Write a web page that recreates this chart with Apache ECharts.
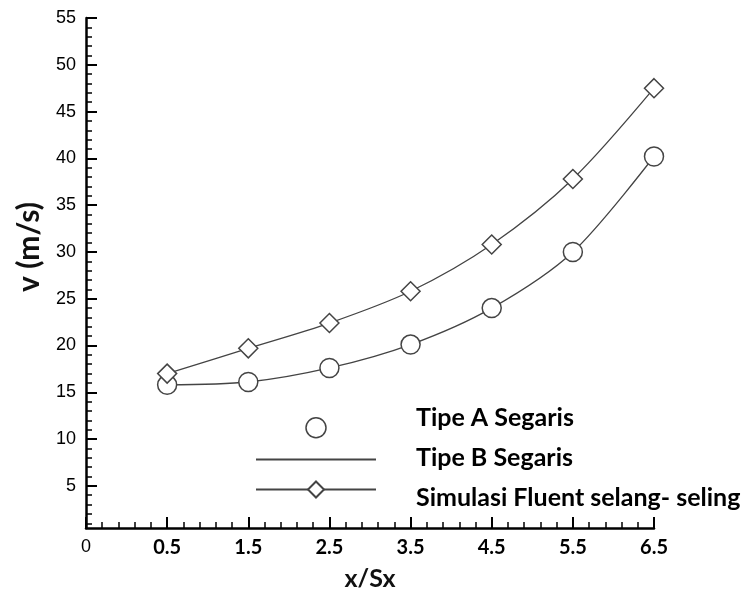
<!DOCTYPE html>
<html>
<head>
<meta charset="utf-8">
<script src="https://cdn.jsdelivr.net/npm/echarts@6/dist/echarts.min.js"></script>
<style>
  html, body { margin: 0; padding: 0; background: #fff; }
  #chart { width: 753px; height: 596px; }
</style>
</head>
<body>
<div id="chart"></div>
<script>
// x positions (x/Sx) and velocities
const xValues = [0.5, 1.5, 2.5, 3.5, 4.5, 5.5, 6.5];
const tipeA = [15.8, 16.1, 17.6, 20.1, 24.0, 30.0, 40.2];
const simulasi = [17.0, 19.7, 22.4, 25.8, 30.8, 37.8, 47.5];
const seriesNames = ['Tipe A Segaris', 'Tipe B Segaris', 'Simulasi Fluent selang- seling'];
const yTicks = [5, 10, 15, 20, 25, 30, 35, 40, 45, 50, 55];
const yMinorTicks = [];
for (let i = 1; i <= 55; i++) yMinorTicks.push(i);

const lineColor = '#444';
const boldFont = 'Lato';

const chart = echarts.init(document.getElementById('chart'));

const option = {
    animation: false,
    backgroundColor: '#fff',
    grid: { left: 86, right: 99, top: 18, bottom: 62 },
    legend: [
        // symbols only
        {
            orient: 'vertical',
            left: 250,
            top: 412,
            itemWidth: 120,
            itemHeight: 20,
            itemGap: 13,
            formatter: () => '',
            textStyle: { fontSize: 10, lineHeight: 20 },
            data: [
                { name: seriesNames[0], icon: 'circle',
                  itemStyle: { color: '#fff', borderColor: lineColor, borderWidth: 1.5 } },
                { name: seriesNames[1] },
                { name: seriesNames[2] }
            ]
        },
        // labels only
        {
            orient: 'vertical',
            left: 406,
            top: 398,
            itemWidth: 0,
            itemHeight: 0,
            itemGap: 10,
            textStyle: {
                fontFamily: boldFont,
                fontWeight: 'bold',
                fontSize: 25,
                lineHeight: 30,
                color: '#000'
            },
            data: seriesNames.map(n => ({ name: n, icon: 'none' }))
        }
    ],
    xAxis: {
        type: 'value',
        min: -0.5,
        max: 6.5,
        interval: 1,
        name: 'x/Sx',
        nameLocation: 'middle',
        nameGap: 38,
        nameTextStyle: { fontFamily: boldFont, fontWeight: 'bold', fontSize: 25, color: '#111' },
        axisLine: { onZero: false, lineStyle: { color: '#000', width: 2.5 } },
        axisTick: { inside: true, length: 11, lineStyle: { color: '#000', width: 2 } },
        minorTick: { show: true, splitNumber: 5, length: 6, lineStyle: { color: '#000', width: 1.5 } },
        splitLine: { show: false },
        axisLabel: {
            margin: 10,
            fontFamily: boldFont,
            fontWeight: 'bold',
            fontSize: 20,
            color: '#000',
            formatter: v => v < 0 ? '{z|0}' : v.toFixed(1),
            rich: {
                z: { fontFamily: 'Liberation Sans', fontWeight: 'normal', fontSize: 18, color: '#000', padding: [0, 0, 6, 0] }
            }
        }
    },
    yAxis: [
        {
            type: 'value',
            min: 0.5,
            max: 55,
            name: 'v (m/s)',
            nameLocation: 'middle',
            nameGap: 42,
            nameTextStyle: { fontFamily: boldFont, fontWeight: 'bold', fontSize: 30, color: '#111', padding: [0, 0, 0, 52] },
            axisLine: { show: true, onZero: false, lineStyle: { color: '#000', width: 2.5 } },
            axisTick: { show: true, inside: true, length: 11, customValues: yTicks, lineStyle: { color: '#000', width: 2 } },
            splitLine: { show: false },
            axisLabel: {
                customValues: yTicks,
                margin: 10,
                fontFamily: 'Liberation Sans',
                fontSize: 18,
                color: '#000'
            }
        },
        {
            type: 'value',
            min: 0.5,
            max: 55,
            position: 'left',
            axisLine: { show: false, onZero: false },
            axisTick: { show: true, inside: true, length: 6, customValues: yMinorTicks, lineStyle: { color: '#000', width: 1.5 } },
            splitLine: { show: false },
            axisLabel: { show: false }
        }
    ],
    series: [
        {
            name: seriesNames[0],
            type: 'line',
            smooth: 0.3,
            data: xValues.map((x, i) => [x, tipeA[i]]),
            symbol: 'circle',
            symbolSize: 19,
            lineStyle: { color: lineColor, width: 1.3 },
            itemStyle: { color: '#fff', borderColor: lineColor, borderWidth: 1.5 },
            z: 3
        },
        {
            name: seriesNames[1],
            type: 'line',
            data: [],
            symbol: 'none',
            lineStyle: { color: lineColor, width: 1.3 },
            itemStyle: { color: 'rgba(0,0,0,0)', borderWidth: 0 }
        },
        {
            name: seriesNames[2],
            type: 'line',
            smooth: 0.3,
            data: xValues.map((x, i) => [x, simulasi[i]]),
            symbol: 'diamond',
            symbolSize: 19,
            lineStyle: { color: lineColor, width: 1.3 },
            itemStyle: { color: '#fff', borderColor: lineColor, borderWidth: 1.5 },
            z: 3
        }
    ]
};

chart.setOption(option);
</script>
</body>
</html>
